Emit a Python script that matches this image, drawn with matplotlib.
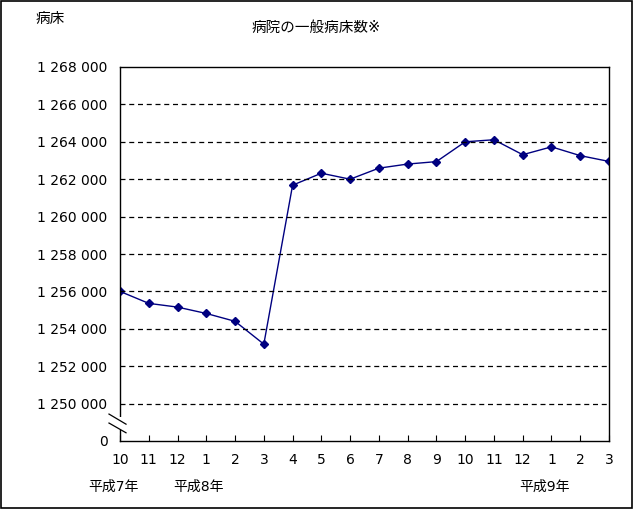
import matplotlib.pyplot as plt
from matplotlib.lines import Line2D
from matplotlib.patches import Rectangle

plt.rcParams['font.family'] = ['DejaVu Sans', 'Noto Sans CJK JP']

months = ['10', '11', '12', '1', '2', '3', '4', '5', '6', '7', '8', '9',
          '10', '11', '12', '1', '2', '3']
beds = [1256000, 1255360, 1255160, 1254820, 1254400, 1253180, 1261680, 1262320,
        1262000, 1262590, 1262810, 1262940, 1264000, 1264110, 1263310, 1263730,
        1263260, 1262950]
y_ticks = [1248000, 1250000, 1252000, 1254000, 1256000, 1258000, 1260000,
           1262000, 1264000, 1266000, 1268000]
y_labels = ['0', '1 250 000', '1 252 000', '1 254 000', '1 256 000', '1 258 000',
            '1 260 000', '1 262 000', '1 264 000', '1 266 000', '1 268 000']
years = [('平成7年', 113), ('平成8年', 198), ('平成9年', 544)]

fig = plt.figure(figsize=(6.33, 5.09), dpi=100)
ax = fig.add_axes([120 / 633, 1 - 441 / 509, 489 / 633, 374 / 509])

x = list(range(len(beds)))
ax.plot(x, beds, color='#000080', lw=1, marker='D', ms=4, mfc='#000080', mec='#000080')

ax.set_xlim(0, len(beds) - 1)
ax.set_ylim(1248000, 1268000)
ax.set_xticks(x)
ax.set_xticklabels(months, fontsize=10)
ax.set_yticks(y_ticks)
ax.set_yticklabels(y_labels, fontsize=10)
ax.tick_params(axis='x', direction='in', length=4, pad=9, width=0.8)
ax.tick_params(axis='y', length=0, pad=9)

for yv in y_ticks[1:-1]:
    ax.axhline(yv, color='black', lw=0.9, ls=(0, (4, 3)))

for s in ax.spines.values():
    s.set_color('black')
    s.set_linewidth(1)

# axis break marks
ax.add_patch(Rectangle((-0.02, 0.03), 0.04, 0.035, transform=ax.transAxes,
                       facecolor='white', edgecolor='none', clip_on=False, zorder=5))
for y0, y1 in [(0.072, 0.045), (0.048, 0.022)]:
    ax.add_line(Line2D([-0.0225, 0.0123], [y0, y1], transform=ax.transAxes,
                       color='black', lw=0.9, clip_on=False, zorder=6))

fig.text(0.5, 1 - 27 / 509, '病院の一般病床数※', ha='center', va='center', fontsize=10.5)
fig.text(36 / 633, 1 - 19 / 509, '病床', ha='left', va='center', fontsize=10.5)
for label, px in years:
    fig.text(px / 633, 1 - 487 / 509, label, ha='center', va='center', fontsize=10)

fig.add_artist(Rectangle((0.0008, 0.001), 0.9984, 0.998, transform=fig.transFigure,
                         fill=False, edgecolor='black', lw=1.2))

fig.savefig('out.png', dpi=100)
